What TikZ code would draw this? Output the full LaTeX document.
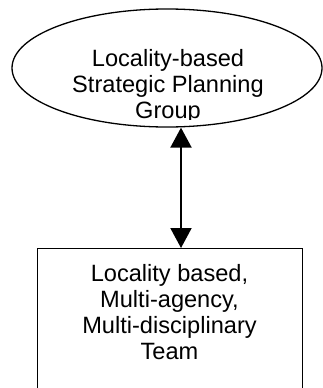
\documentclass[tikz,border=0pt]{standalone}
\usepackage{fontspec}
\setmainfont{Liberation Sans}
\usetikzlibrary{shapes.geometric,arrows.meta}
\tikzset{
  shapeline/.style={draw=black,line width=1.3pt},
  labeltext/.style={inner sep=0pt,align=center,anchor=north,font=\fontsize{23.6}{26}\selectfont},
  link/.style={line width=2pt,{Triangle[width=21pt,length=20pt]}-{Triangle[width=21pt,length=20pt]}}
}
\begin{document}
\begin{tikzpicture}[x=1pt,y=-1pt]
\useasboundingbox (0,0) rectangle (323,388);
\node[shapeline,ellipse,inner sep=0pt,minimum width=310pt,minimum height=118pt] (grp) at (167,68) {};
\begin{scope}
\clip (0,0) rectangle (323,119);
\node[labeltext] (grptext) at (168,49.5) {Locality-based\\Strategic Planning\\Group};
\end{scope}
\node[shapeline,rectangle,inner sep=0pt,minimum width=265pt,minimum height=170pt,anchor=north west] (team) at (37,248) {};
\node[labeltext] (teamtext) at (169.5,264) {Locality based,\\Multi-agency,\\Multi-disciplinary\\Team};
\coordinate (ax) at (181,0);
\draw[link] (grp.south -| ax) -- (team.north -| ax);
\end{tikzpicture}
\end{document}
